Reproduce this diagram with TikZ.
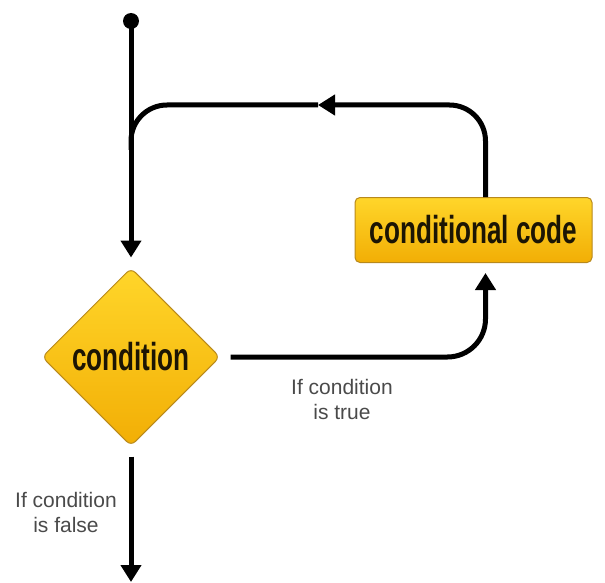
\documentclass[tikz,border=0pt]{standalone}
\usepackage{fontspec}
\setmainfont{Liberation Sans}
\newfontfamily\condfont[FakeStretch=0.67]{Liberation Sans}
\usetikzlibrary{arrows.meta,positioning,shapes.geometric}
\definecolor{boxtop}{HTML}{FFD62A}
\definecolor{boxbottom}{HTML}{F2AE05}
\definecolor{boxline}{HTML}{B8891C}
\definecolor{labelgray}{HTML}{4A4A4A}

\tikzset{
  flow/.style={line width=5pt, black},
  yellowbox/.style={draw=boxline, line width=1pt, top color=boxtop, bottom color=boxbottom,
                    text=black!85!boxline, font=\condfont\bfseries\fontsize{39}{44}\selectfont},
  caption/.style={align=center, text=labelgray, font=\fontsize{21}{25}\selectfont}
}

\begin{document}
\begin{tikzpicture}[x=1pt, y=-1pt, >={Triangle[width=20pt,length=17pt]}]
  \useasboundingbox (0,0) rectangle (605,583);

  % the two blocks
  \node[yellowbox, diamond, aspect=1, minimum width=178pt, minimum height=178pt,
        inner sep=0pt, rounded corners=6pt] (cond) at (131,357) {condition};
  \node[yellowbox, rectangle, rounded corners=5pt, minimum width=237pt,
        minimum height=65pt] (code) at (473.5,230) {conditional code};

  % start point and helper points
  \fill (131,21) circle (8pt) coordinate (start);
  \coordinate (back) at (318,105);
  \coordinate (turn) at (131,105);
  \coordinate (merge) at (131,150);
  \coordinate (exit) at (131,582);

  % connectors
  \draw[flow, ->, shorten >=10pt] (start) -- (cond.north);
  \draw[flow, ->, rounded corners=38pt, shorten <=10pt, shorten >=10pt]
       (cond.east) -| ([xshift=12pt]code.south);
  \draw[flow, ->, rounded corners=36pt] ([xshift=12pt]code.north) |- (back);
  \draw[flow, rounded corners=36pt] (back) -- (turn) -- (merge);
  \draw[flow, ->, shorten <=10pt] (cond.south) -- (exit);

  % labels
  \node[caption] (truelabel) at (342,399) {If condition\\is true};
  \node[caption] (falselabel) at (66,512) {If condition\\is false};
\end{tikzpicture}
\end{document}
